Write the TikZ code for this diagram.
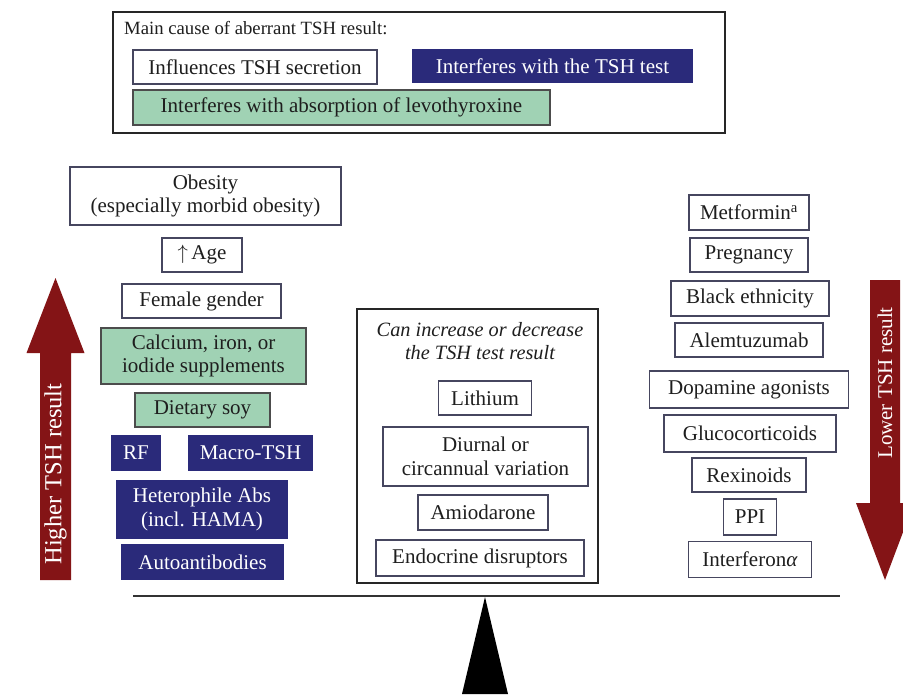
\documentclass[tikz,border=0pt]{standalone}
\usepackage{fontspec}
\setmainfont{Liberation Serif}
\definecolor{navyc}{RGB}{42,42,122}
\definecolor{mintc}{RGB}{160,210,180}
\definecolor{arrowred}{RGB}{132,20,22}
\definecolor{edgec}{RGB}{70,70,95}
\definecolor{txtc}{RGB}{30,30,30}
\begin{document}
\begin{tikzpicture}[x=1pt,y=-1pt,
  box/.style={draw=edgec, line width=1.2pt, fill=white, text=txtc, align=center, inner sep=0pt,
    font=\fontsize{21}{23.5}\selectfont},
  navybox/.style={box, draw=navyc, fill=navyc, text=white},
  greenbox/.style={box, draw=black!70, fill=mintc},
  framebox/.style={draw=black!85, line width=1.4pt, inner sep=0pt},
  arrowtext/.style={text=white, rotate=90, inner sep=0pt, font=\fontsize{21}{24}\selectfont}]
\clip (0,0) rectangle (903,694);
\fill[white] (0,0) rectangle (903,694);
\useasboundingbox (0,0) rectangle (903,694);

% legend
\node[framebox, minimum width=612, minimum height=121] (legend) at (419,72.5) {};
\node[anchor=west, text=txtc, inner sep=0pt, font=\fontsize{18.7}{21}\selectfont] (legtitle) at (124,28) {Main cause of aberrant TSH result:};
\node[box, minimum width=244, minimum height=34] (legsec) at (255,67) {Influences TSH secretion};
\node[navybox, minimum width=279, minimum height=32] (legtest) at (552.5,66) {Interferes with the TSH test};
\node[greenbox, minimum width=417, minimum height=35] (legabs) at (341.5,107.5) {Interferes with absorption of levothyroxine};

% left arrow
\fill[arrowred] (40,580) -- (40,353) -- (26.5,353) -- (55.5,278) -- (84.5,353) -- (71,353) -- (71,580) -- cycle;
\node[arrowtext, font=\fontsize{24.5}{27}\selectfont] (higher) at (55.5,474) {Higher TSH result};

% right arrow
\fill[arrowred] (870,280) -- (900,280) -- (900,503) -- (914,503) -- (885,580) -- (856,503) -- (870,503) -- cycle;
\node[arrowtext] (lower) at (885,383) {Lower TSH result};

% left column
\node[box, minimum width=271, minimum height=58] (obesity) at (205.5,196) {Obesity\\(especially morbid obesity)};
\node[box, minimum width=80, minimum height=34] (age) at (202,255) {$\uparrow$\,Age};
\node[box, minimum width=159, minimum height=34] (female) at (201.5,301) {Female gender};
\node[greenbox, minimum width=205, minimum height=56] (calcium) at (203.5,356) {Calcium, iron, or\\iodide supplements};
\node[greenbox, minimum width=135, minimum height=34] (soy) at (202.5,410) {Dietary soy};
\node[navybox, minimum width=48, minimum height=34] (rf) at (136,453) {RF};
\node[navybox, minimum width=123, minimum height=34] (macro) at (250.5,453) {Macro-TSH};
\node[navybox, minimum width=170, minimum height=57] (hetero) at (202,509.5) {Heterophile Abs\\(incl. HAMA)};
\node[navybox, minimum width=161, minimum height=34] (auto) at (202.5,562) {Autoantibodies};

% centre
\node[framebox, minimum width=241, minimum height=274] (centre) at (477.5,446) {};
\node[text=txtc, align=center, inner sep=0pt, font=\fontsize{20.3}{23}\itshape] (centretitle) at (480,341) {Can increase or decrease\\the TSH test result};
\node[box, minimum width=93, minimum height=34] (lithium) at (485,398) {Lithium};
\node[box, minimum width=205, minimum height=59] (diurnal) at (485.5,456.5) {Diurnal or\\circannual variation};
\node[box, minimum width=130, minimum height=35] (amio) at (483,512.5) {Amiodarone};
\node[box, minimum width=208, minimum height=36] (endo) at (480,558) {Endocrine disruptors};

% right column
\node[box, minimum width=120, minimum height=35] (metformin) at (749,212.5) {Metformin\textsuperscript{a}};
\node[box, minimum width=118, minimum height=34] (pregnancy) at (749,255) {Pregnancy};
\node[box, minimum width=158, minimum height=35] (black) at (750,298.5) {Black ethnicity};
\node[box, minimum width=148, minimum height=34] (alem) at (749,340) {Alemtuzumab};
\node[box, minimum width=199, minimum height=37] (dopa) at (749,389.5) {Dopamine agonists};
\node[box, minimum width=172, minimum height=37] (gluco) at (750,433.5) {Glucocorticoids};
\node[box, minimum width=114, minimum height=34] (rexi) at (749,475) {Rexinoids};
\node[box, minimum width=53, minimum height=36] (ppi) at (750,517) {PPI};
\node[box, minimum width=123, minimum height=36] (interferon) at (750,559.5) {Interferon\textit{α}};

% balance
\draw[line width=2.8pt, black!80] (133,596) -- (840,596);
\fill[black] (485,597) -- (508,694) -- (462,694) -- cycle;
\end{tikzpicture}
\end{document}
